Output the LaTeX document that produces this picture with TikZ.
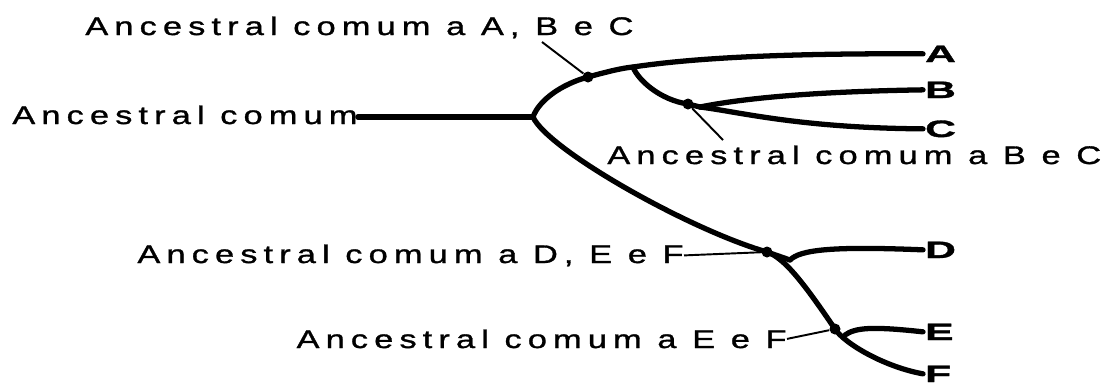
\documentclass[tikz,border=0pt]{standalone}
\usepackage{fontspec}
\setmainfont{Liberation Sans}
\newfontfamily\rotfonte[LetterSpace=24,FakeStretch=1.35,FakeBold=1.2]{Liberation Sans}
\newfontfamily\folhafonte[FakeStretch=1.8,FakeBold=1.5]{Liberation Sans}

\begin{document}
\begin{tikzpicture}[x=0.02cm, y=-0.02cm,
    galho/.style={line width=3pt, line cap=round},
    guia/.style={line width=1.1pt},
    ponto/.style={circle, fill=black, inner sep=0pt, minimum size=0.22cm},
    rotulo/.style={font=\rotfonte\fontsize{14.5}{16}\selectfont, inner sep=0pt},
    folha/.style={font=\folhafonte\bfseries\fontsize{13.5}{16}\selectfont, inner sep=1pt, anchor=base west}]

    \useasboundingbox (0,0) rectangle (1112,386);

    % Rótulos dos ancestrais
    \node[rotulo, anchor=base west] (raiz) at (12,124) {Ancestral comum};
    \node[rotulo, anchor=base west] (lABC) at (85,35) {Ancestral comum a A, B e C};
    \node[rotulo, anchor=base west] (lBC) at (607,164) {Ancestral comum a B e C};
    \node[rotulo, anchor=base east] (lDEF) at (684,263) {Ancestral comum a D, E e F};
    \node[rotulo, anchor=base east] (lEF) at (787,348) {Ancestral comum a E e F};

    % Espécies nas pontas
    \node[folha] (A) at (923,62) {A};
    \node[folha] (B) at (923,98) {B};
    \node[folha] (C) at (923,137) {C};
    \node[folha] (D) at (923,258) {D};
    \node[folha] (E) at (923,340) {E};
    \node[folha] (F) at (923,382) {F};

    % Pontos de ramificação
    \coordinate (R) at (533,117);
    \coordinate (J1) at (633,67);
    \coordinate (JBC) at (700,107);
    \coordinate (J2) at (790,260);
    \coordinate (JEF) at (845,335);
    \coordinate (pABC) at (588,77);
    \coordinate (pBC) at (688,104);
    \coordinate (pDEF) at (767,252);
    \coordinate (pEF) at (835,329);
    \coordinate (gABC) at (542,42);
    \coordinate (gBC) at (723,140);

    % Galhos
    \draw[galho] (raiz.east |- R) -- (R);
    \draw[galho] (R) .. controls (539,100) and (562,84) .. (pABC)
        .. controls (606,72) and (622,68) .. (J1)
        .. controls (680,60) and (760,53) .. (A.west);
    \draw[galho] (J1) .. controls (638,80) and (660,100) .. (pBC) -- (JBC);
    \draw[galho] (JBC) .. controls (730,101) and (790,92) .. (B.west);
    \draw[galho] (JBC) .. controls (740,112) and (800,128) .. (C.west);
    \draw[galho] (R) .. controls (548,150) and (690,230) .. (pDEF) -- (J2);
    \draw[galho] (J2) .. controls (800,250) and (830,246) .. (D.west);
    \draw[galho] (pDEF) .. controls (785,258) and (805,285) .. (pEF)
        .. controls (845,344) and (885,367) .. (F.west);
    \draw[galho] (JEF) .. controls (855,328) and (870,326) .. (E.west);

    % Ancestrais comuns
    \node[ponto] (nABC) at (pABC) {};
    \node[ponto] (nBC) at (pBC) {};
    \node[ponto] (nDEF) at (pDEF) {};
    \node[ponto] (nEF) at (pEF) {};

    % Linhas de chamada
    \draw[guia] (gABC) -- (nABC);
    \draw[guia] (nBC) -- (gBC);
    \draw[guia] (lDEF.east) -- (nDEF);
    \draw[guia] (lEF.east) -- (nEF);
\end{tikzpicture}
\end{document}
